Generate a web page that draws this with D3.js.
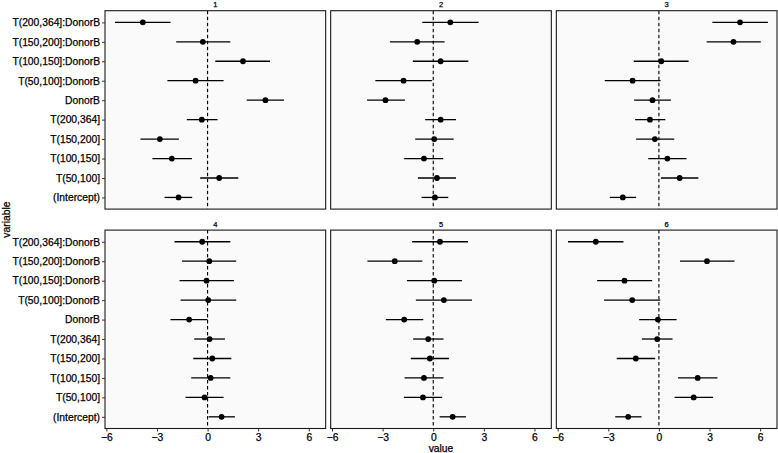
<!DOCTYPE html>
<html>
<head>
<meta charset="utf-8">
<script src="https://cdn.jsdelivr.net/npm/d3@7"></script>
<style>
  body { margin: 0; background: #fff; }
  svg { display: block; font-family: "Liberation Sans", Arial, sans-serif; }
  svg text { stroke: #000; stroke-width: 0.25px; }
</style>
</head>
<body>
<script>
let W = 778, H = 453;

// terms, top to bottom
let terms = [
  "T(200,364]:DonorB",
  "T(150,200]:DonorB",
  "T(100,150]:DonorB",
  "T(50,100]:DonorB",
  "DonorB",
  "T(200,364]",
  "T(150,200]",
  "T(100,150]",
  "T(50,100]",
  "(Intercept)"
];

let panels = ["1", "2", "3", "4", "5", "6"];

// point estimates per panel (same order as terms)
let estimate = [
  [-3.84, -0.28,  2.10, -0.71,  3.43, -0.34, -2.83, -2.12,  0.69, -1.72],
  [ 1.01, -0.95,  0.44, -1.76, -2.83,  0.44,  0.06, -0.55,  0.22,  0.10],
  [ 4.81,  4.42,  0.14, -1.56, -0.38, -0.53, -0.24,  0.50,  1.23, -2.14],
  [-0.32,  0.10, -0.06,  0.04, -1.09,  0.12,  0.28,  0.18, -0.18,  0.83],
  [ 0.40, -2.28,  0.06,  0.63, -1.72, -0.30, -0.20, -0.55, -0.61,  1.15],
  [-3.74,  2.85, -2.04, -1.58, -0.06, -0.10, -1.37,  2.30,  2.06, -1.82]
];

let lower = [
  [-5.49, -1.86,  0.46, -2.38,  2.32, -1.23, -3.98, -3.27, -0.44, -2.55],
  [-0.65, -2.57, -1.21, -3.43, -3.92, -0.48, -1.07, -1.72, -0.91, -0.69],
  [ 3.17,  2.83, -1.49, -3.21, -1.47, -1.41, -1.35, -0.63,  0.12, -2.91],
  [-1.96, -1.52, -1.66, -1.60, -2.20, -0.79, -0.85, -0.97, -1.31,  0.06],
  [-1.25, -3.90, -1.56, -1.03, -2.81, -1.19, -1.33, -1.70, -1.74,  0.38],
  [-5.39,  1.25, -3.66, -3.25, -1.17, -1.01, -2.50,  1.13,  0.93, -2.59]
];

let upper = [
  [-2.20,  1.35,  3.70,  0.95,  4.53,  0.59, -1.70, -0.93,  1.82, -0.91],
  [ 2.69,  0.67,  2.08, -0.08, -1.68,  1.35,  1.21,  0.59,  1.35,  0.89],
  [ 6.46,  6.04,  1.76,  0.10,  0.71,  0.38,  0.91,  1.64,  2.34, -1.35],
  [ 1.35,  1.70,  1.56,  1.70,  0.00,  1.03,  1.41,  1.35,  0.95,  1.62],
  [ 2.06, -0.65,  1.70,  2.30, -0.59,  0.61,  0.93,  0.61,  0.53,  1.94],
  [-2.10,  4.48, -0.40,  0.08,  1.05,  0.81, -0.22,  3.47,  3.21, -1.03]
];

let xTicks = [-6, -3, 0, 3, 6];

let pad = { lef: 105, rig: 1, top: 10.7, bot: 24.5 };
let gapX = 5, gapY = 21;
let pw = (W - pad.lef - pad.rig - 2 * gapX) / 3;
let ph = (H - pad.top - pad.bot - gapY) / 2;

let svg = d3.select("body").append("svg")
  .attr("width", W).attr("height", H);

let xScale = d3.scaleLinear().domain([-6.08, 7.0]).range([0, pw]);
let yScale = d3.scalePoint().domain(terms).range([0, ph]).padding(0.6);

panels.forEach((p, i) =>
{
  let col = i % 3, row = Math.floor(i / 3);
  let px = pad.lef + col * (pw + gapX);
  let py = pad.top + row * (ph + gapY);
  let g = svg.append("g").attr("transform", "translate(" + px + "," + py + ")");

  g.append("rect")
    .attr("width", pw).attr("height", ph)
    .attr("fill", "#fafafa");

  // strip label
  svg.append("text")
    .text(p)
    .attr("x", px + pw / 2)
    .attr("y", py - 3.5)
    .attr("text-anchor", "middle")
    .attr("font-size", "7.5px")
    .attr("fill", "#000");

  g.append("line")
    .attr("x1", xScale(0)).attr("x2", xScale(0))
    .attr("y1", 0).attr("y2", ph)
    .attr("stroke", "#000")
    .attr("stroke-width", 1.1)
    .attr("stroke-dasharray", "3.5,2.5");

  let rows = terms.map((t, j) => ({ term: t, est: estimate[i][j], lo: lower[i][j], hi: upper[i][j] }));

  g.selectAll(".bar").data(rows).enter().append("line")
    .attr("x1", d => xScale(d.lo))
    .attr("x2", d => xScale(d.hi))
    .attr("y1", d => yScale(d.term))
    .attr("y2", d => yScale(d.term))
    .attr("stroke", "#000")
    .attr("stroke-width", 1.3);

  g.selectAll(".pt").data(rows).enter().append("circle")
    .attr("cx", d => xScale(d.est))
    .attr("cy", d => yScale(d.term))
    .attr("r", 2.9)
    .attr("fill", "#000");

  g.append("rect")
    .attr("width", pw).attr("height", ph)
    .attr("fill", "none")
    .attr("stroke", "#1a1a1a")
    .attr("stroke-width", 1.1);

  if (col === 0)
  {
    let ax = g.append("g")
      .call(d3.axisLeft(yScale).tickSize(3).tickPadding(2).tickSizeOuter(0));
    ax.select(".domain").remove();
    ax.selectAll("line").attr("stroke", "#333");
    ax.selectAll("text")
      .attr("font-size", "10.3px")
      .attr("font-family", "Liberation Sans, Arial, sans-serif")
      .attr("fill", "#000");
  }
  if (row === 1)
  {
    let ax = g.append("g")
      .attr("transform", "translate(0," + ph + ")")
      .call(d3.axisBottom(xScale).tickValues(xTicks).tickSize(3).tickPadding(2)
        .tickFormat(d => d < 0 ? "\u2212" + Math.abs(d) : d));
    ax.select(".domain").remove();
    ax.selectAll("line").attr("stroke", "#333");
    ax.selectAll("text")
      .attr("font-size", "10.3px")
      .attr("font-family", "Liberation Sans, Arial, sans-serif")
      .attr("fill", "#000");
  }
});

svg.append("text")
  .text("value")
  .attr("x", pad.lef + (W - pad.lef - pad.rig) / 2)
  .attr("y", H - 1.5)
  .attr("text-anchor", "middle")
  .attr("font-size", "10.3px")
  .attr("fill", "#000");

svg.append("text")
  .text("variable")
  .attr("transform", "rotate(-90)")
  .attr("x", -(pad.top + (H - pad.top - pad.bot) / 2))
  .attr("y", 9.5)
  .attr("text-anchor", "middle")
  .attr("font-size", "10.3px")
  .attr("fill", "#000");
</script>
</body>
</html>
